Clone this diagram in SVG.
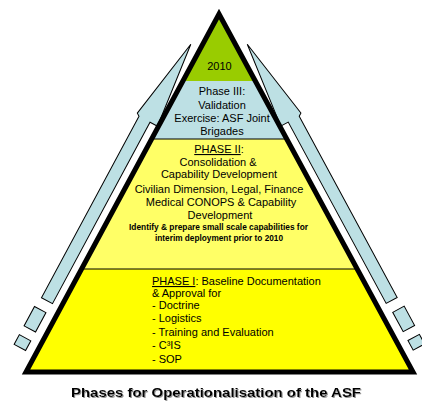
<svg xmlns="http://www.w3.org/2000/svg" xmlns:xlink="http://www.w3.org/1999/xlink" width="422" height="409" viewBox="0 0 422 409">
  <style>
    .arrow { fill: #bde0e4; stroke: #000; stroke-width: 1; stroke-linejoin: miter; }
    .t { font-family: "Liberation Sans", Arial, sans-serif; font-size: 11px; fill: #000; }
    .c { text-anchor: middle; }
    .small { font-size: 8.5px; font-weight: bold; }
    .title { font-family: "Liberation Sans", Arial, sans-serif; font-size: 13px; font-weight: bold; fill: #000; text-anchor: middle; }
    .sep { stroke: #000; stroke-width: 1.2; }
  </style>
  <defs>
    <g id="arrowShape">
      <path class="arrow" d="M40,10.5 L126,25 L128,22 L334,22 L334,9.5 L128,9.5 L128,1 Z"/>
      <path class="arrow" d="M345,11 L367,11 L367,24 L345,24 Z"/>
      <path class="arrow" d="M377,11 L388,11 L388,24 L377,24 Z"/>
    </g>
    <filter id="shadow" x="-5%" y="-30%" width="110%" height="160%">
      <feDropShadow dx="1" dy="1" stdDeviation="0.6" flood-color="#808080" flood-opacity="0.8"/>
    </filter>
  </defs>

  <g id="connectors">
    <use id="arrow-left" xlink:href="#arrowShape" transform="matrix(-0.4735 0.8808 -0.8808 -0.4735 219 14)"/>
    <use id="arrow-right" xlink:href="#arrowShape" transform="matrix(0.4755 0.8799 0.8799 -0.4755 219 14)"/>
  </g>

  <g id="apex-2010">
    <polygon points="219,14 255.7,81 182.4,81" fill="#99cc00"/>
    <text class="t c" x="219.5" y="70">2010</text>
  </g>

  <g id="phase3">
    <polygon points="182.4,81 255.7,81 287.1,139 151.3,139" fill="#bde0e4"/>
    <text class="t c" x="222" y="95">Phase III:</text>
    <text class="t c" x="222" y="109">Validation</text>
    <text class="t c" x="222" y="122">Exercise: ASF Joint</text>
    <text class="t c" x="222" y="135">Brigades</text>
  </g>

  <g id="phase2">
    <polygon points="151.3,139 287.1,139 357.3,269 81.4,269" fill="#ffff66"/>
    <text class="t c" x="219" y="153"><tspan text-decoration="underline">PHASE II</tspan>:</text>
    <text class="t c" x="218" y="166">Consolidation &amp;</text>
    <text class="t c" x="219" y="178">Capability Development</text>
    <text class="t c" x="219" y="193">Civilian Dimension, Legal, Finance</text>
    <text class="t c" x="221" y="205.5">Medical CONOPS &amp; Capability</text>
    <text class="t c" x="220" y="219">Development</text>
    <text class="t c small" x="218.5" y="230" textLength="179" lengthAdjust="spacingAndGlyphs">Identify &amp; prepare small scale capabilities for</text>
    <text class="t c small" x="219" y="240.5" textLength="128" lengthAdjust="spacingAndGlyphs">interim deployment prior to 2010</text>
  </g>

  <g id="phase1">
    <polygon points="81.4,269 357.3,269 413,372 26,372" fill="#ffff00"/>
    <text class="t" x="152" y="285"><tspan text-decoration="underline">PHASE I</tspan>: Baseline Documentation</text>
    <text class="t" x="152" y="297">&amp; Approval for</text>
    <text class="t" x="152" y="309">- Doctrine</text>
    <text class="t" x="152" y="322">- Logistics</text>
    <text class="t" x="152" y="336">- Training and Evaluation</text>
    <text class="t" x="152" y="349">- C³IS</text>
    <text class="t" x="152" y="363">- SOP</text>
  </g>

  <g id="pyramid-outline">
    <line class="sep" x1="151.3" y1="139" x2="287.1" y2="139"/>
    <line class="sep" x1="81.4" y1="269" x2="357.3" y2="269"/>
    <polygon points="219,14 413,372 26,372" fill="none" stroke="#000" stroke-width="5" stroke-linejoin="miter"/>
  </g>

  <g id="title">
    <text class="title" x="216" y="397" textLength="290" lengthAdjust="spacingAndGlyphs" filter="url(#shadow)">Phases for Operationalisation of the ASF</text>
  </g>
</svg>
